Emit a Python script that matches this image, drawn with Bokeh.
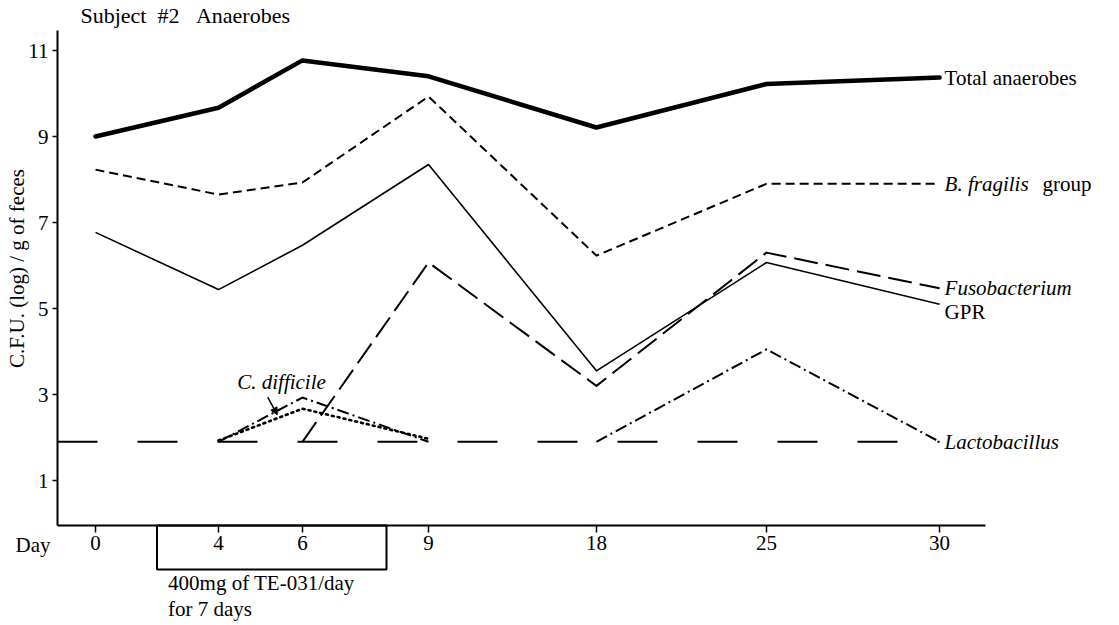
import numpy as np
from bokeh.plotting import figure
from bokeh.models import (Range1d, FixedTicker, CustomJSTickFormatter, Label,
                          PolyAnnotation, Arrow, NormalHead)
from bokeh.core.properties import value
from bokeh.embed import file_html
from bokeh.resources import INLINE

# ---------------- data ----------------
days = [0, 4, 6, 9, 18, 25, 30]
# horizontal slot of each sampling day on the (non-linear) drawn day axis
day_slot = [0.0, 4.0, 6.73, 10.83, 16.29, 21.82, 27.45]

total_anaerobes = [9.0, 9.67, 10.77, 10.4, 9.21, 10.22, 10.37]
b_fragilis = [8.23, 7.65, 7.93, 9.93, 6.23, 7.9, 7.9]
gpr = [6.77, 5.44, 6.47, 8.35, 3.55, 6.07, 5.1]
fusobacterium = [1.9, 1.9, 1.9, 6.07, 3.2, 6.3, 5.47]
lactobacillus = [1.9, 1.9, 2.93, 1.9, 1.9, 4.05, 1.9]
c_difficile = [np.nan, 1.93, 2.67, 1.97, np.nan, np.nan, np.nan]
detection_limit = 1.9

y_ticks = [1, 3, 5, 7, 9, 11]
treatment_days = [2, 8]

FONT = "Liberation Serif"
FS = "21px"

# ---------------- layout ----------------
x_start, x_end = -3.089, 33.30
y_start, y_end = -2.372, 12.163
x_axis_y = -0.047      # where the day axis is drawn
y_axis_x = -1.236      # where the value axis is drawn
x_axis_end = 28.94
y_axis_top = 11.465

p = figure(width=1119, height=625, output_backend="svg", toolbar_location=None,
           x_range=Range1d(x_start, x_end), y_range=Range1d(y_start, y_end),
           min_border_left=0, min_border_right=0, min_border_top=0,
           min_border_bottom=0)
p.outline_line_color = None
p.grid.visible = False
p.background_fill_color = "white"
p.border_fill_color = "white"


def runs_above(vals):
    """polyline runs made of segments where at least one end is above the limit"""
    runs, cur = [], None
    for i in range(len(vals) - 1):
        if vals[i] > detection_limit or vals[i + 1] > detection_limit:
            if cur is None:
                cur = [i, i + 1]
            else:
                cur.append(i + 1)
        else:
            if cur:
                runs.append(cur)
            cur = None
    if cur:
        runs.append(cur)
    xs = [[day_slot[j] for j in r] for r in runs]
    ys = [[vals[j] for j in r] for r in runs]
    return xs, ys


# detection-limit baseline
p.line([y_axis_x, day_slot[-1]], [detection_limit, detection_limit],
       line_color="black", line_width=2, line_dash="40 40")

# Lactobacillus (dash-dot)
lx, ly = runs_above(lactobacillus)
p.multi_line(lx, ly, line_color="black", line_width=2, line_dash="12 4 2 4",
             line_join="round")

# Fusobacterium (long dash)
fx, fy = runs_above(fusobacterium)
p.multi_line(fx, fy, line_color="black", line_width=2, line_dash="24 8",
             line_join="round")

# C. difficile (dotted)
p.line(day_slot, c_difficile, line_color="black", line_width=2.6,
       line_dash="2 4", line_cap="round")

# GPR (thin solid)
p.line(day_slot, gpr, line_color="black", line_width=1.6, line_join="round")

# B. fragilis group (short dash)
p.line(day_slot, b_fragilis, line_color="black", line_width=2,
       line_dash="9 5", line_join="round")

# Total anaerobes (thick)
p.line(day_slot, total_anaerobes, line_color="black", line_width=4.5,
       line_join="round", line_cap="round")

# ---------------- series labels ----------------
xe = day_slot[-1]
p.text(x=[xe, xe, xe], y=[total_anaerobes[-1], b_fragilis[-1], gpr[-1]],
       text=["Total anaerobes", "group", "GPR"],
       x_offset=[5, 103, 5], y_offset=[0, 0, 8],
       text_font=value(FONT), text_font_size=FS, text_baseline="middle",
       text_color="black")
p.text(x=[xe, xe, xe], y=[b_fragilis[-1], fusobacterium[-1], lactobacillus[-1]],
       text=["B. fragilis", "Fusobacterium", "Lactobacillus"],
       x_offset=5, text_font=value(FONT), text_font_size=FS,
       text_font_style="italic", text_baseline="middle", text_color="black")
p.text(x=[6.05], y=[3.30], text=["C. difficile"], text_font=value(FONT),
       text_font_size=FS, text_font_style="italic", text_baseline="middle",
       text_align="center", text_color="black")
p.add_layout(Arrow(end=NormalHead(size=7, fill_color="black", line_color="black"),
                   x_start=5.60, y_start=2.94, x_end=5.91, y_end=2.53,
                   line_width=1.5, line_color="black"))

# ---------------- axes ----------------
p.xaxis.ticker = FixedTicker(ticks=day_slot)
p.xaxis.formatter = CustomJSTickFormatter(
    args=dict(slots=day_slot, labels=[str(d) for d in days]),
    code="const i = slots.findIndex(s => Math.abs(s - tick) < 1e-6); return i >= 0 ? labels[i] : '';")
p.xaxis.bounds = (y_axis_x, x_axis_end)
p.xaxis.fixed_location = x_axis_y
p.yaxis.ticker = FixedTicker(ticks=y_ticks)
p.yaxis.bounds = (x_axis_y, y_axis_top)
p.yaxis.fixed_location = y_axis_x

for ax in (p.xaxis, p.yaxis):
    ax.axis_line_width = 2
    ax.axis_line_color = "black"
    ax.major_tick_line_color = "black"
    ax.major_tick_line_width = 1.5
    ax.major_tick_in = 0
    ax.minor_tick_in = 0
    ax.minor_tick_out = 0
    ax.major_label_text_font = FONT
    ax.major_label_text_font_size = FS
    ax.major_label_text_color = "black"

p.xaxis.major_tick_out = 7
p.xaxis.major_label_standoff = 3
p.yaxis.major_tick_out = 5
p.yaxis.major_label_standoff = 4

# ---------------- annotations ----------------
p.add_layout(Label(x=-2.537, y=5.93, text="C.F.U. (log) / g of feces",
                   angle=np.pi / 2, text_align="center", text_baseline="middle",
                   text_font=FONT, text_font_size=FS, text_color="black"))
p.add_layout(Label(x=-0.49, y=11.81,
                   text="Subject\u00a0\u00a0#2\u00a0\u00a0\u00a0Anaerobes",
                   text_font=FONT, text_font_size="22px", text_baseline="middle",
                   text_color="black"))
p.add_layout(Label(x=-2.60, y=-0.51, text="Day", text_font=FONT,
                   text_font_size=FS, text_baseline="middle", text_color="black"))

t0, t1 = np.interp(treatment_days, days, day_slot)
p.add_layout(PolyAnnotation(xs=[t0, t0, t1, t1], ys=[x_axis_y, -1.07, -1.07, x_axis_y],
                            fill_alpha=0, line_color="black", line_alpha=1.0,
                            line_width=2))
p.add_layout(Label(x=t0 + 0.36, y=-1.38, text="400mg of TE-031/day",
                   text_font=FONT, text_font_size=FS, text_baseline="middle",
                   text_color="black"))
p.add_layout(Label(x=t0 + 0.36, y=-1.98, text="for 7 days",
                   text_font=FONT, text_font_size=FS, text_baseline="middle",
                   text_color="black"))

open("out.html", "w").write(file_html(p, INLINE))
